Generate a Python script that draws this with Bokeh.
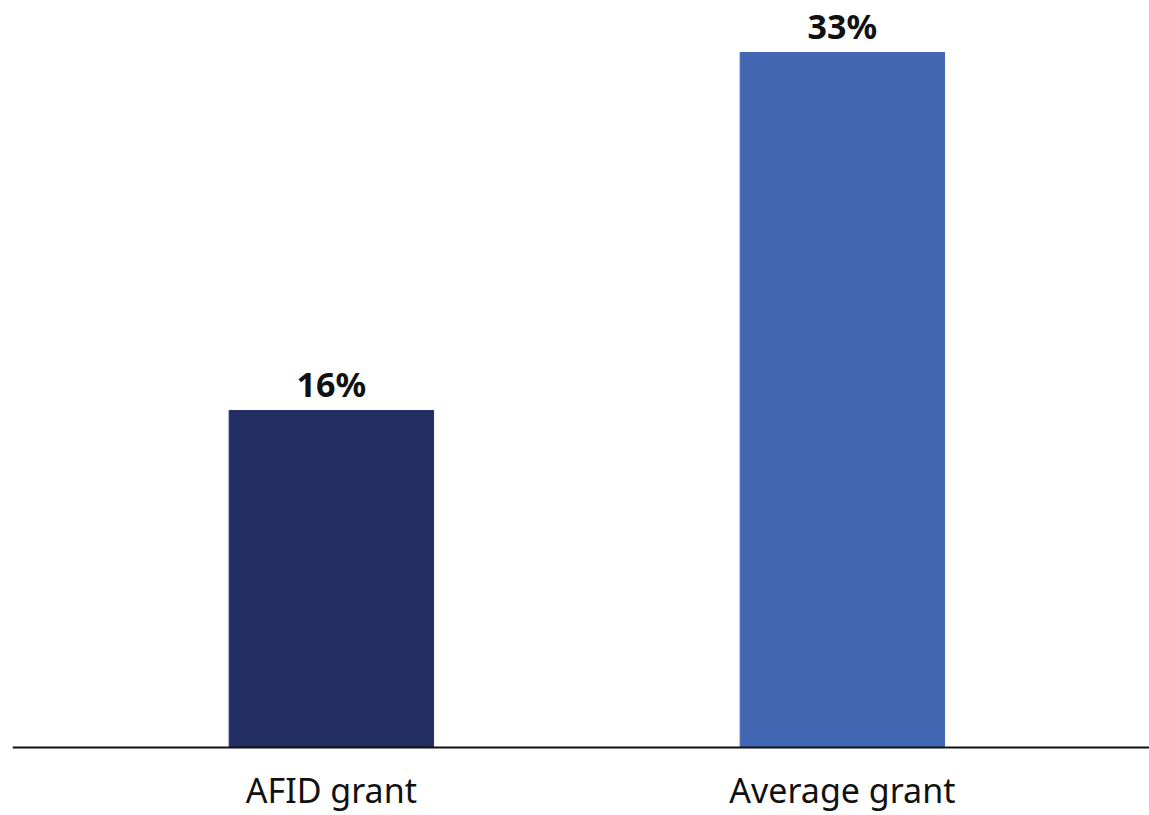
from bokeh.plotting import figure
from bokeh.models import ColumnDataSource, Range1d, Span
from bokeh.core.properties import value
from bokeh.embed import file_html
from bokeh.resources import INLINE

# Share of grant, by grant type
categories = ["AFID grant", "Average grant"]
values = [16, 33]
value_labels = ["16%", "33%"]
colors = ["#232E63", "#4267B2"]
positions = [0, 1]

source = ColumnDataSource(dict(
    x=positions, top=values, label=value_labels, color=colors,
    category=categories, zero=[0, 0],
))

p = figure(
    width=1149, height=815,
    x_range=Range1d(-0.624, 1.601),
    y_range=Range1d(-3.229, 35.47),
    output_backend="svg", toolbar_location=None,
    x_axis_location=None, y_axis_location=None,
    min_border_left=12, min_border_right=0, min_border_top=0, min_border_bottom=0,
)
p.outline_line_color = None
p.grid.visible = False
p.background_fill_color = "white"
p.border_fill_color = "white"

p.vbar(x="x", top="top", bottom=0, width=0.4, color="color", source=source)

# baseline
p.add_layout(Span(location=0, dimension="width", line_color="#111111", line_width=2))

# value labels above the bars
p.text(x="x", y="top", text="label", source=source,
       text_align="center", text_baseline="bottom", y_offset=-4,
       text_font=value("Noto Sans"), text_font_style="bold",
       text_font_size="34px", text_color="#111111")

# category labels below the baseline
p.text(x="x", y="zero", text="category", source=source,
       text_align="center", text_baseline="top", y_offset=20,
       text_font=value("Noto Sans"), text_font_size="34px",
       text_color="#111111")

open("out.html", "w").write(file_html(p, INLINE))
